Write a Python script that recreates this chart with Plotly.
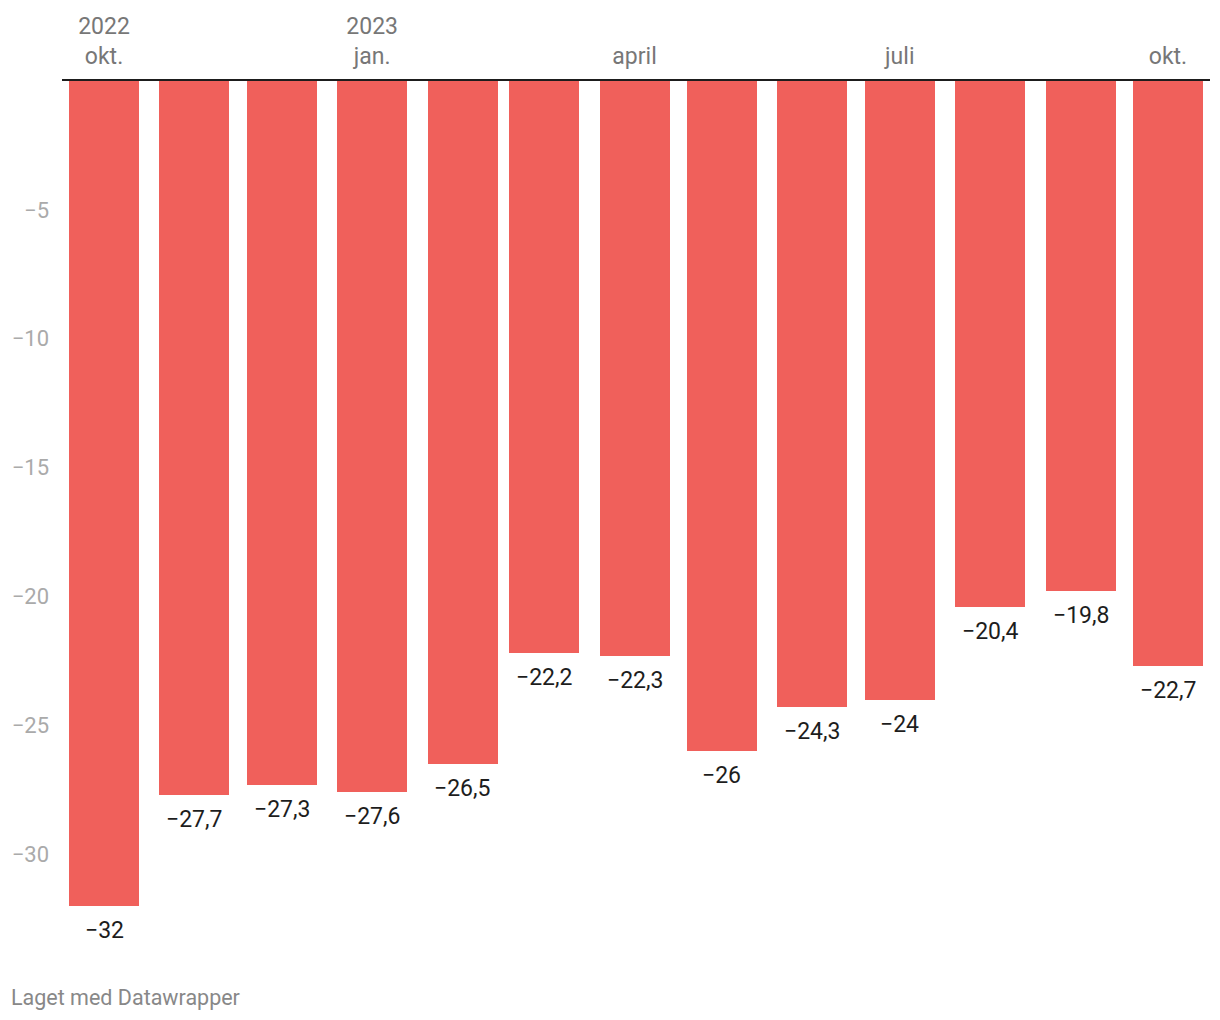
import plotly.graph_objects as go

months = ["2022-10-01", "2022-11-01", "2022-12-01", "2023-01-01", "2023-02-01",
          "2023-03-01", "2023-04-01", "2023-05-01", "2023-06-01", "2023-07-01",
          "2023-08-01", "2023-09-01", "2023-10-01"]
values = [-32, -27.7, -27.3, -27.6, -26.5, -22.2, -22.3, -26, -24.3, -24, -20.4, -19.8, -22.7]

x_tick_vals = ["2022-10-01", "2023-01-01", "2023-04-01", "2023-07-01", "2023-10-01"]
x_tick_text = ["2022<br>okt.", "2023<br>jan.", "april", "juli", "okt."]
y_tick_vals = [-5, -10, -15, -20, -25, -30]


def fmt(v):
    s = ("%g" % abs(v)).replace(".", ",")
    return ("\u2212" + s) if v < 0 else s


y_tick_text = [fmt(v) for v in y_tick_vals]

BAR_COLOR = "#f0605b"
FONT = "Roboto"

fig = go.Figure()
fig.add_trace(go.Bar(
    x=months, y=values,
    width=24 * 86400000,
    marker=dict(color=BAR_COLOR, line=dict(width=0)),
    hoverinfo="skip",
))

for m, v in zip(months, values):
    fig.add_annotation(
        x=m, y=v, xref="x", yref="y",
        text=fmt(v), showarrow=False,
        yanchor="top", yshift=-9,
        font=dict(family=FONT, size=23, color="#1d1d1d"),
    )

fig.add_annotation(
    x=0, y=0, xref="paper", yref="paper",
    xanchor="left", yanchor="middle", xshift=-53, yshift=-47,
    text="Laget med Datawrapper", showarrow=False,
    font=dict(family=FONT, size=21.5, color="#888888"),
)

fig.update_layout(
    width=1220, height=1020,
    margin=dict(l=62, r=10, t=81, b=70),
    paper_bgcolor="white", plot_bgcolor="white",
    showlegend=False,
    font=dict(family=FONT),
    bargap=0,
)

fig.update_xaxes(
    type="date",
    side="top",
    range=["2022-09-16 14:00", "2023-10-15 10:00"],
    tickvals=x_tick_vals, ticktext=x_tick_text,
    ticks="", showgrid=False, zeroline=False,
    showline=True, linecolor="#1d1d1d", linewidth=2,
    tickfont=dict(family=FONT, size=23, color="#777777"),
    ticklabelstandoff=6,
)

fig.update_yaxes(
    range=[-33.72, 0],
    tickvals=y_tick_vals, ticktext=y_tick_text,
    ticks="", showgrid=False, zeroline=False, showline=False,
    tickfont=dict(family=FONT, size=22, color="#aaaaaa"),
    ticklabelstandoff=12,
)

fig.write_html("out.html")
